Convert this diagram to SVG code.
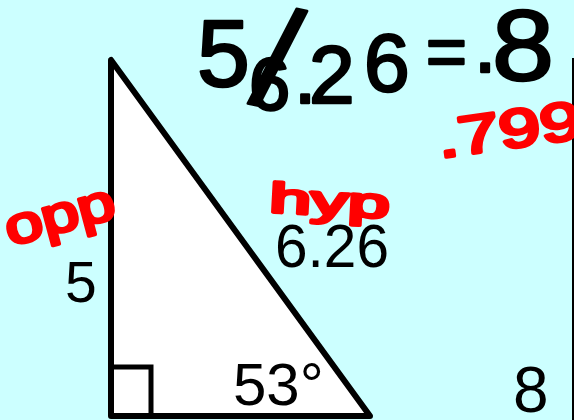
<svg xmlns="http://www.w3.org/2000/svg" width="574" height="420" viewBox="0 0 574 420">
<style>
.num{font-family:"Liberation Sans","DejaVu Sans",sans-serif;fill:#000}
.hand{font-family:"Liberation Sans","DejaVu Sans",sans-serif;stroke-linejoin:round;stroke-linecap:round}
.ink{fill:#000;stroke:#000;stroke-width:2.5}
.red{fill:#f00;stroke:#f00;stroke-width:3.5}
</style>
<rect width="574" height="420" fill="#ccffff"/>
<line x1="573" y1="58" x2="573" y2="420" stroke="#000" stroke-width="2"/>
<g id="triangle">
<polygon points="111,60 111,416 370,416" fill="#fff" stroke="#000" stroke-width="6" stroke-linejoin="round"/>
<polyline points="111,367 151,367 151,416" fill="none" stroke="#000" stroke-width="5"/>
</g>
<g id="label-opp-side"><text class="num" x="65" y="302" font-size="57">5</text></g>
<g id="label-hyp-side"><text class="num" x="275" y="267" font-size="61" textLength="114" lengthAdjust="spacingAndGlyphs">6.26</text></g>
<g id="label-angle"><text class="num" x="233" y="405" font-size="60">53°</text></g>
<g id="label-adj"><text class="num" x="513" y="412" font-size="64">8</text></g>
<g id="note-equation" class="hand ink">
<text x="197" y="86" font-size="95">5</text>
<text x="257" y="106" font-size="140" transform="rotate(12 270 61)">/</text>
<text x="249" y="110" font-size="74">6</text>
<text x="294" y="103" font-size="80">.</text>
<text x="309" y="103" font-size="82">2</text>
<text x="364" y="91" font-size="82">6</text>
<text x="426" y="76" font-size="70">=</text>
<text x="474" y="72" font-size="80">.</text>
<text x="492" y="80" font-size="100" textLength="62" lengthAdjust="spacingAndGlyphs">8</text>
</g>
<g id="note-opp" class="hand red"><text x="10" y="246" font-size="52" textLength="112" lengthAdjust="spacingAndGlyphs" transform="rotate(-15 10 246)">opp</text></g>
<g id="note-hyp" class="hand red"><text x="269" y="212" font-size="42" textLength="120" lengthAdjust="spacingAndGlyphs" transform="rotate(3 269 212)">hyp</text></g>
<g id="note-result" class="hand red"><text x="440" y="158" font-size="54" textLength="145" lengthAdjust="spacingAndGlyphs" transform="rotate(-8 440 158)">.799</text></g>
</svg>
